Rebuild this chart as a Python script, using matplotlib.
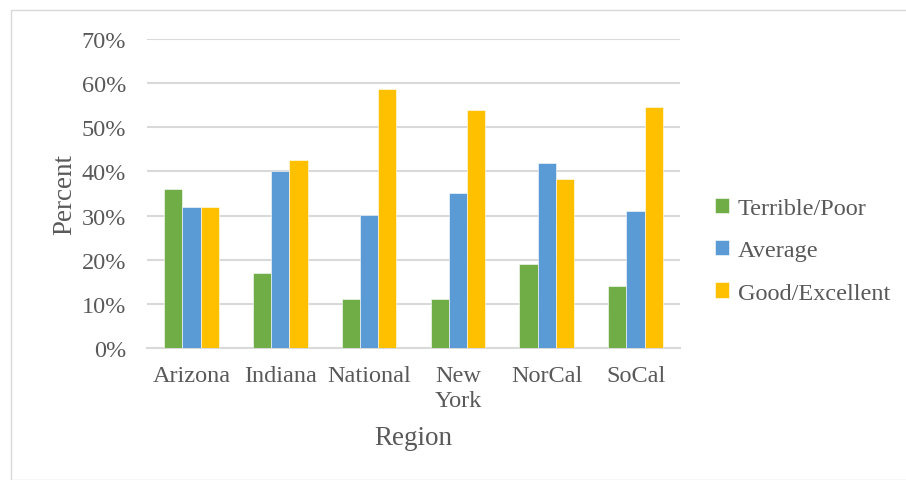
import numpy as np
import matplotlib.pyplot as plt
from matplotlib.patches import Rectangle

regions = ["Arizona", "Indiana", "National", "New\nYork", "NorCal", "SoCal"]
poor = [36, 17, 11, 11, 19, 14]
average = [32, 40.2, 30.2, 35.1, 42, 31]
good = [32, 42.6, 58.7, 54, 38.2, 54.6]

series = ["Terrible/Poor", "Average", "Good/Excellent"]
colors = ["#70ad47", "#5b9bd5", "#ffc000"]
txt = "#595959"

plt.rcParams['font.family'] = ['Liberation Serif', 'DejaVu Serif']

fig = plt.figure(figsize=(9.06, 4.81), dpi=100)
fig.patches.append(Rectangle((11 / 906, 0), 1, 1 - 11 / 481, transform=fig.transFigure,
                             fill=False, edgecolor="#d9d9d9", lw=1))
ax = fig.add_axes([147 / 906, 1 - 349 / 481, 533 / 906, 309 / 481])

x = np.arange(len(regions))
w = 0.205
for i, (vals, name) in enumerate(zip([poor, average, good], series)):
    ax.bar(x + (i - 1) * w, vals, w, color=colors[i], label=name, zorder=3,
           edgecolor="white", linewidth=0.4)

ax.set_xlim(-0.5, len(regions) - 0.5)
ax.set_ylim(0, 70)
ax.set_yticks(range(0, 71, 10))
ax.set_yticklabels([f"{v}%" for v in range(0, 71, 10)])
ax.set_xticks(x)
ax.set_xticklabels(regions, linespacing=1.3)
ax.grid(axis='y', color="#d9d9d9", lw=1.5, zorder=0)
for s in ["top", "right", "left"]:
    ax.spines[s].set_visible(False)
ax.spines["bottom"].set_color("#d9d9d9")
ax.spines["bottom"].set_linewidth(1.5)
ax.tick_params(length=0, labelsize=17.5, colors=txt)
ax.tick_params(axis='y', pad=15)
ax.tick_params(axis='x', pad=12)

ax.set_ylabel("Percent", fontsize=19.5, color=txt, labelpad=3.5)
ax.set_xlabel("Region", fontsize=19.5, color=txt, labelpad=10)

ax.legend(loc="center left", bbox_to_anchor=(1.024, 0.315), frameon=False,
          fontsize=17.5, labelcolor=txt, handlelength=0.6, handleheight=0.6,
          handletextpad=0.35, labelspacing=0.87)

fig.savefig("out.png", dpi=100)
